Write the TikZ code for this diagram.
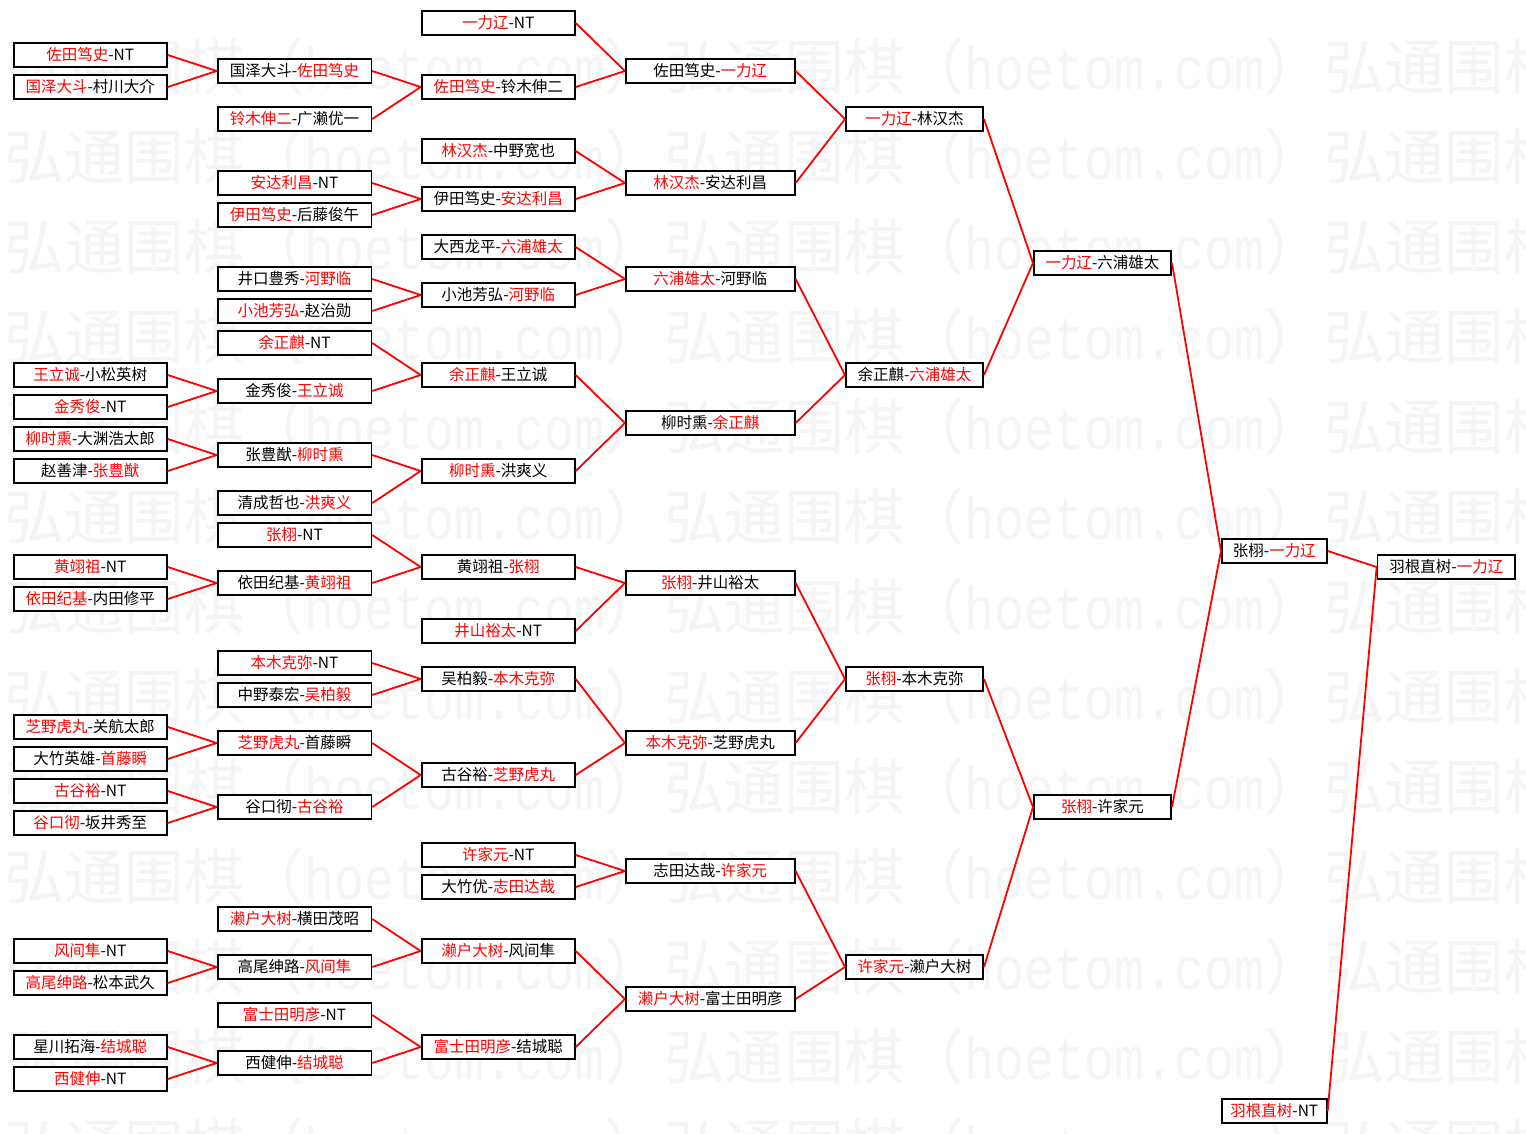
\documentclass[tikz,border=0pt]{standalone}
\usepackage{fontspec}
\usepackage{graphicx}
\setmainfont{Noto Sans CJK SC}
\newfontfamily\wmlat{Liberation Mono}
\newcommand\R[1]{\textcolor{red}{#1}}
\newcommand\wmunit{\makebox[60pt][l]{弘}\makebox[60pt][l]{通}\makebox[60pt][l]{围}\makebox[60pt][l]{棋}\makebox[60pt][l]{（}\scalebox{0.833}[1]{\wmlat hoetom.com}\makebox[60pt][l]{）}}
\begin{document}
\begin{tikzpicture}[x=1pt,y=-1pt,
  box/.style={draw=black, line width=1.8pt, fill=white, minimum height=23.5pt, inner sep=0pt, font=\fontsize{15.5pt}{18pt}\selectfont},
  w0/.style={box, minimum width=153.2pt},
  w1/.style={box, minimum width=153.8pt},
  w2/.style={box, minimum width=153.2pt},
  w3/.style={box, minimum width=168.9pt},
  w4/.style={box, minimum width=137.2pt},
  w5/.style={box, minimum width=137.2pt},
  w6/.style={box, minimum width=104.9pt},
  w7/.style={box, minimum width=137.5pt},
  wm/.style={inner sep=0pt, text=black!4, font=\fontsize{60pt}{60pt}\selectfont, anchor=base west},
  edge/.style={red, line width=1.8pt}]
\useasboundingbox (0,0) rectangle (1526,1133);
\fill[white] (0,0) rectangle (1526,1133);
\begin{scope}
\clip (0,0) rectangle (1526,1133);
\foreach \r in {0,...,12}{\foreach \u in {0,1,2}{\node[wm] (wm-\r-\u) at ({4+660*\u},{89+90*\r}) {\wmunit};}}
\end{scope}
% column 0
\node[w0] (a1) at (90.2,55) {\R{佐田笃史}-NT};
\node[w0] (a2) at (90.2,87) {\R{国泽大斗}-村川大介};
\node[w0] (a3) at (90.2,375) {\R{王立诚}-小松英树};
\node[w0] (a4) at (90.2,407) {\R{金秀俊}-NT};
\node[w0] (a5) at (90.2,439) {\R{柳时熏}-大渊浩太郎};
\node[w0] (a6) at (90.2,471) {赵善津-\R{张豊猷}};
\node[w0] (a7) at (90.2,567) {\R{黄翊祖}-NT};
\node[w0] (a8) at (90.2,599) {\R{依田纪基}-内田修平};
\node[w0] (a9) at (90.2,727) {\R{芝野虎丸}-关航太郎};
\node[w0] (a10) at (90.2,759) {大竹英雄-\R{首藤瞬}};
\node[w0] (a11) at (90.2,791) {\R{古谷裕}-NT};
\node[w0] (a12) at (90.2,823) {\R{谷口彻}-坂井秀至};
\node[w0] (a13) at (90.2,951) {\R{风间隼}-NT};
\node[w0] (a14) at (90.2,983) {\R{高尾绅路}-松本武久};
\node[w0] (a15) at (90.2,1047) {星川拓海-\R{结城聪}};
\node[w0] (a16) at (90.2,1079) {\R{西健伸}-NT};
% column 1
\node[w1] (b1) at (294.5,71) {国泽大斗-\R{佐田笃史}};
\node[w1] (b2) at (294.5,119) {\R{铃木伸二}-广濑优一};
\node[w1] (b3) at (294.5,183) {\R{安达利昌}-NT};
\node[w1] (b4) at (294.5,215) {\R{伊田笃史}-后藤俊午};
\node[w1] (b5) at (294.5,279) {井口豊秀-\R{河野临}};
\node[w1] (b6) at (294.5,311) {\R{小池芳弘}-赵治勋};
\node[w1] (b7) at (294.5,343) {\R{余正麒}-NT};
\node[w1] (b8) at (294.5,391) {金秀俊-\R{王立诚}};
\node[w1] (b9) at (294.5,455) {张豊猷-\R{柳时熏}};
\node[w1] (b10) at (294.5,503) {清成哲也-\R{洪爽义}};
\node[w1] (b11) at (294.5,535) {\R{张栩}-NT};
\node[w1] (b12) at (294.5,583) {依田纪基-\R{黄翊祖}};
\node[w1] (b13) at (294.5,663) {\R{本木克弥}-NT};
\node[w1] (b14) at (294.5,695) {中野泰宏-\R{吴柏毅}};
\node[w1] (b15) at (294.5,743) {\R{芝野虎丸}-首藤瞬};
\node[w1] (b16) at (294.5,807) {谷口彻-\R{古谷裕}};
\node[w1] (b17) at (294.5,919) {\R{濑户大树}-横田茂昭};
\node[w1] (b18) at (294.5,967) {高尾绅路-\R{风间隼}};
\node[w1] (b19) at (294.5,1015) {\R{富士田明彦}-NT};
\node[w1] (b20) at (294.5,1063) {西健伸-\R{结城聪}};
% column 2
\node[w2] (c1) at (498.2,23) {\R{一力辽}-NT};
\node[w2] (c2) at (498.2,87) {\R{佐田笃史}-铃木伸二};
\node[w2] (c3) at (498.2,151) {\R{林汉杰}-中野宽也};
\node[w2] (c4) at (498.2,199) {伊田笃史-\R{安达利昌}};
\node[w2] (c5) at (498.2,247) {大西龙平-\R{六浦雄太}};
\node[w2] (c6) at (498.2,295) {小池芳弘-\R{河野临}};
\node[w2] (c7) at (498.2,375) {\R{余正麒}-王立诚};
\node[w2] (c8) at (498.2,471) {\R{柳时熏}-洪爽义};
\node[w2] (c9) at (498.2,567) {黄翊祖-\R{张栩}};
\node[w2] (c10) at (498.2,631) {\R{井山裕太}-NT};
\node[w2] (c11) at (498.2,679) {吴柏毅-\R{本木克弥}};
\node[w2] (c12) at (498.2,775) {古谷裕-\R{芝野虎丸}};
\node[w2] (c13) at (498.2,855) {\R{许家元}-NT};
\node[w2] (c14) at (498.2,887) {大竹优-\R{志田达哉}};
\node[w2] (c15) at (498.2,951) {\R{濑户大树}-风间隼};
\node[w2] (c16) at (498.2,1047) {\R{富士田明彦}-结城聪};
% column 3
\node[w3] (d1) at (710.3,71) {佐田笃史-\R{一力辽}};
\node[w3] (d2) at (710.3,183) {\R{林汉杰}-安达利昌};
\node[w3] (d3) at (710.3,279) {\R{六浦雄太}-河野临};
\node[w3] (d4) at (710.3,423) {柳时熏-\R{余正麒}};
\node[w3] (d5) at (710.3,583) {\R{张栩}-井山裕太};
\node[w3] (d6) at (710.3,743) {\R{本木克弥}-芝野虎丸};
\node[w3] (d7) at (710.3,871) {志田达哉-\R{许家元}};
\node[w3] (d8) at (710.3,999) {\R{濑户大树}-富士田明彦};
% column 4
\node[w4] (e1) at (914.5,119) {\R{一力辽}-林汉杰};
\node[w4] (e2) at (914.5,375) {余正麒-\R{六浦雄太}};
\node[w4] (e3) at (914.5,679) {\R{张栩}-本木克弥};
\node[w4] (e4) at (914.5,967) {\R{许家元}-濑户大树};
% column 5
\node[w5] (f1) at (1102.5,263) {\R{一力辽}-六浦雄太};
\node[w5] (f2) at (1102.5,807) {\R{张栩}-许家元};
% column 6
\node[w6] (g1) at (1274.3,551) {张栩-\R{一力辽}};
\node[w6] (g2) at (1274.3,1111) {\R{羽根直树}-NT};
% column 7
\node[w7] (h1) at (1446.3,567) {羽根直树-\R{一力辽}};
% connectors
\foreach \c/\p in {a1/b1,a2/b1,a3/b8,a4/b8,a5/b9,a6/b9,a7/b12,a8/b12,a9/b15,a10/b15,a11/b16,a12/b16,a13/b18,a14/b18,a15/b20,a16/b20,
  b1/c2,b2/c2,b3/c4,b4/c4,b5/c6,b6/c6,b7/c7,b8/c7,b9/c8,b10/c8,b11/c9,b12/c9,b13/c11,b14/c11,b15/c12,b16/c12,b17/c15,b18/c15,b19/c16,b20/c16,
  c1/d1,c2/d1,c3/d2,c4/d2,c5/d3,c6/d3,c7/d4,c8/d4,c9/d5,c10/d5,c11/d6,c12/d6,c13/d7,c14/d7,c15/d8,c16/d8,
  d1/e1,d2/e1,d3/e2,d4/e2,d5/e3,d6/e3,d7/e4,d8/e4,
  e1/f1,e2/f1,e3/f2,e4/f2,
  f1/g1,f2/g1,
  g1/h1,g2/h1}{\draw[edge] (\c.east) -- (\p.west);}
\end{tikzpicture}
\end{document}
